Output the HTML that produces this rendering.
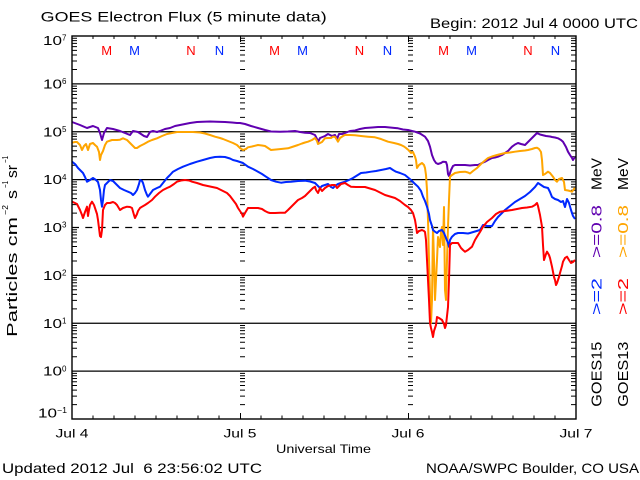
<!DOCTYPE html>
<html><head><meta charset="utf-8"><style>
html,body{margin:0;padding:0;background:#fff;}
svg{display:block;}
text{font-family:"Liberation Sans",sans-serif;}
</style></head><body>
<svg width="640" height="480" viewBox="0 0 640 480" xmlns="http://www.w3.org/2000/svg">
<defs>
<path id="dec" d="M0,-14.41h5M0,-22.84h5M0,-28.82h5M0,-33.46h5M0,-37.25h5M0,-40.46h5M0,-43.24h5M0,-45.68h5" stroke="#000" stroke-width="1" fill="none"/>
<g id="col">
<use href="#dec" y="83.875"/><use href="#dec" y="131.75"/><use href="#dec" y="179.625"/><use href="#dec" y="227.5"/>
<use href="#dec" y="275.375"/><use href="#dec" y="323.25"/><use href="#dec" y="371.125"/><use href="#dec" y="419"/>
</g>
</defs>
<rect width="640" height="480" fill="#fff"/>

<!-- titles -->
<text x="40.7" y="21.7" font-size="14" textLength="286" lengthAdjust="spacingAndGlyphs">GOES Electron Flux (5 minute data)</text>
<text x="430" y="28" font-size="14" textLength="208" lengthAdjust="spacingAndGlyphs">Begin: 2012 Jul 4 0000 UTC</text>
<text x="2" y="473" font-size="14" textLength="260" lengthAdjust="spacingAndGlyphs" xml:space="preserve">Updated 2012 Jul  6 23:56:02 UTC</text>
<text x="426" y="473" font-size="14" textLength="213" lengthAdjust="spacingAndGlyphs">NOAA/SWPC Boulder, CO USA</text>

<!-- gridlines -->
<g stroke="#000" stroke-width="1.3" fill="none">
<line x1="72" y1="83.875" x2="576" y2="83.875"/>
<line x1="72" y1="131.75" x2="576" y2="131.75"/>
<line x1="72" y1="179.625" x2="576" y2="179.625"/>
<line x1="72" y1="227.5" x2="576" y2="227.5" stroke-dasharray="7,6.3"/>
<line x1="72" y1="275.375" x2="576" y2="275.375"/>
<line x1="72" y1="323.25" x2="576" y2="323.25"/>
<line x1="72" y1="371.125" x2="576" y2="371.125"/>
</g>

<!-- minor log ticks -->
<use href="#col" x="72"/>
<use href="#col" x="240"/>
<use href="#col" x="408"/>
<use href="#col" x="571"/>

<!-- x ticks -->
<path stroke="#000" stroke-width="1" fill="none" d="M93,419v-3.5M114,419v-3.5M135,419v-3.5M156,419v-3.5M177,419v-3.5M198,419v-3.5M219,419v-3.5M261,419v-3.5M282,419v-3.5M303,419v-3.5M324,419v-3.5M345,419v-3.5M366,419v-3.5M387,419v-3.5M429,419v-3.5M450,419v-3.5M471,419v-3.5M492,419v-3.5M513,419v-3.5M534,419v-3.5M555,419v-3.5
M93,36v3M114,36v3M135,36v3M156,36v3M177,36v3M198,36v3M219,36v3M261,36v3M282,36v3M303,36v3M324,36v3M345,36v3M366,36v3M387,36v3M429,36v3M450,36v3M471,36v3M492,36v3M513,36v3M534,36v3M555,36v3
M240.5,419v-6M408.5,419v-6M240.5,36v6M408.5,36v6"/>

<!-- data series -->
<g fill="none" stroke-width="2" stroke-linejoin="round">
<polyline stroke="#6000b0" points="72,122 80,125 87,128 93,126 98,128 100,133 102,140 104,133 107,128 113,129 120,131 125,133 130,135 133,131 138,132 141,134 144,136 147,137 150,132 153,131 157,132 160,131 165,129 170,128 175,126 180,125 185,124 190,123 197,122 203,121.7 210,121.5 217,121.7 225,122 232,122.5 237,123 240,123 245,124 251,126 258,128 265,130 271,131.5 280,131.7 288,131.5 295,131 300,132 305,132.7 310,133 315,135 317,139 318,142 320,138 325,136 328,134 332,136 335,135 337,139 339,134 342,134 345,133 350,131 355,130.5 360,129 365,128 372,127.5 378,127 385,127 390,127.5 395,128 398,128.3 403,129.5 408,130 411,130.7 415,131.7 420,133.5 425,136.7 428,141 430,146.7 432,155 434,160 436,163 438,164 441,163 443,161.7 446,162 447,165 448,174 449,176 451,170 453,166 455,165 460,165 465,165 470,165.5 475,165 478,165 482,163 485,161.7 488,160 492,158 495,157.5 498,156.7 502,155 505,153 508,151 512,146.7 515,144.5 518,143 521,144 525,145 528,142 530,140 533,137 537,133 540,134.5 542,135 546,136 550,136.5 552,137 555,137.5 558,138.3 561,140 563,141.7 566,147 568,151.7 570,155 572,158 573,160 575,157"/>
<polyline stroke="#ffa500" points="72,142.7 75,142 77,142 80,145 82,150 84,146 86,144 88,150 89,147 90,144 93,143 95,145 97,146.7 99,152 100,160 101,155 103,151 105,145 107,141.7 112,140 117,140 120,139.7 123,138.3 127,140 130,143 133,146 135,148 137,148 140,146 144,144 148,141.7 152,140 157,138.3 162,136 167,134 172,133 177,132 185,132 193,132 200,132.5 205,133.5 210,135 215,136.7 220,138 223,139 228,141 233,143 237,145 240,148 243,150 246,149 248,147.3 252,146.5 258,145 262,145.5 265,146 268,148 271,150 276,149.5 281,149 288,148.3 292,147 295,146 298,145 302,143.5 305,142.5 308,141.7 312,140 315,138 317,141 318,144 320,143 322,142 325,138.3 328,138 331,138 333,136.7 335,136.7 337,140 338,141.7 340,138 343,136 345,135 350,135 355,135.3 361,136 368,136.7 375,137.3 381,139 388,141.7 394,143 398,144 401,145 404,146.5 406,148 409,150.5 411,153 413,152 415,156.7 416,160 417,168 419,165 422,163 424,165 425,168 426,175 427,190 428,220 429,260 430,295 431,323 432,300 433,227 434,260 435,300 436,280 437,260 438,237 440,247 441,232 442,227 443,245 444,207 445,290 446,300 447,260 448,227 449,200 450,176.7 452,175 455,173 460,172 465,171.7 468,172.5 470,173.5 473,171 477,168 480,165 482,163 485,160.5 488,158 492,156.5 497,155 501,154 505,153 510,152.5 515,151.7 520,151 525,150.5 528,150 532,149 535,148 537,147.7 539,149 541,152 542,160 543,175 545,174 548,171.7 550,173 553,176.7 555,180 557,181.7 559,179 562,178 564,182 565,190 568,190.5 570,191 572,191.7 574,189 575,188"/>
<polyline stroke="#0028ff" points="72,161.7 75,164 78,168 80,170 83,173 85,177 87,181.7 90,180 93,178 96,180 98,182 100,190 101,200 102,206.7 103,200 104,190 105,185 107,183 110,180 113,181 115,183 118,186 120,188 124,190 128,191.7 131,193 133,195 135,193 137,190 139,184 140,180 142,181 143,183 145,190 147,195 148,196.7 150,194 153,190 157,188 160,186.7 163,183 167,178 170,175 173,171.7 178,169 183,166.7 190,164 197,161.7 203,160 210,158 215,157 220,156.7 225,157 230,158.5 233,160 237,161 240,162 243,163 248,166.7 253,169 258,171.7 262,174 266,176.7 268,178 271,180 276,181.7 281,182.7 286,182 291,181.7 298,181 305,180.7 310,181.5 315,183 318,186 320,188 322,186 325,185 328,184 331,187 333,188 335,186 338,184 341,183 345,181.7 349,180 353,178 357,175.5 361,173 366,172.5 371,171.7 376,171 381,170 386,169 390,168 393,170 396,171.7 400,173 405,175 408,177.5 411,180 414,183 418,186.7 421,191 423,196.7 425,201 427,206.7 429,214 430,220 432,226 433,230 435,231.7 437,233 439,231 442,230 444,233 446,238 448,243 449,246.7 450,240 452,236.7 455,234 458,233 463,233 468,233.5 470,233 475,231.5 480,230 483,225 487,226 492,226 495,221 498,217 502,213 505,210 510,206 515,202 520,199 525,196 530,192 535,187 538,183 541,185 544,187 548,188 550,192 552,197 555,199 558,200 561,202 563,201 565,207 567,199 569,203 571,210 573,216 575,219"/>
<polyline stroke="#ff0000" points="72,201.7 75,203 77,204 79,208 80,210 82,215 83,218 85,212 87,206.7 88,216 89,210 90,205 92,201.7 94,205 95,208 97,214 98,220 99,228 100,236 101,237 102,230 103,210 105,205 107,203 110,203 113,202 115,203 117,205 120,210 123,208 127,206.7 130,207 132,208 134,215 135,218 137,214 138,211 140,208 142,206.7 145,205 148,203 152,200 155,196.7 159,193 163,190 167,188 170,186.7 174,184 177,181.7 181,180.5 185,180 189,180.5 192,181.7 197,183 203,185 210,186.5 217,188 222,190.5 227,193 230,196 233,200 236,204 238,208 240,211 242,214 243,216.7 245,213 248,208 252,208 256,208 258,208 262,209 265,211 268,212.5 270,213 275,213 280,212.7 285,212.7 288,210 290,208 293,205 296,202 298,200 302,198 305,196 308,193 311,190 313,188 315,186.7 316,190 318,193 320,188 322,191 325,188 328,186 332,185 335,185 337,188 338,187 341,184 345,183 348,185 351,186.7 356,187 361,187 365,187 370,188.5 375,190 380,192.5 385,195 390,196.5 395,198 400,201 405,205 408,207 411,210 413,213 415,220 416,226 417,233 419,231 422,230 424,231 425,232 426,240 427,260 428,280 429,300 430,323 431,328 432,332 433,337 434,331 436,325 437,317 439,318 442,320 444,324 445,328 446,325 448,307 449,280 450,245 452,243 455,243 458,243 461,248 463,250 465,251.7 468,250 472,246.7 475,240 477,236.7 480,232 483,226.7 487,222 492,218 496,214 500,211.7 505,211 512,210 517,209 522,208 527,207.5 532,206.7 535,205 537,203 538,206 540,215 542,226.7 543,245 544,260 546,254 547,251.7 549,255 550,258 552,266.7 554,277 555,280 556,285 557,283 559,277 560,273 562,266 563,261.7 565,258 567,256.7 569,260 571,263 573,262 575,260"/>
</g>

<!-- axis box -->
<rect x="72" y="36" width="504" height="383" fill="none" stroke="#000" stroke-width="1.4"/>

<!-- M/N markers -->
<g font-size="13" text-anchor="middle">
<text x="106.7" y="55" fill="#ff0000">M</text>
<text x="134.5" y="55" fill="#0028ff">M</text>
<text x="191" y="55" fill="#ff0000">N</text>
<text x="219.5" y="55" fill="#0028ff">N</text>
<text x="274.5" y="55" fill="#ff0000">M</text>
<text x="302.5" y="55" fill="#0028ff">M</text>
<text x="359.5" y="55" fill="#ff0000">N</text>
<text x="387.5" y="55" fill="#0028ff">N</text>
<text x="443.5" y="55" fill="#ff0000">M</text>
<text x="471.5" y="55" fill="#0028ff">M</text>
<text x="528" y="55" fill="#ff0000">N</text>
<text x="555.5" y="55" fill="#0028ff">N</text>
</g>

<!-- y tick labels -->
<g font-size="13">
<text x="43" y="45" textLength="19" lengthAdjust="spacingAndGlyphs">10</text><text x="62" y="40.5" font-size="8">7</text>
<text x="43" y="88.5" textLength="19" lengthAdjust="spacingAndGlyphs">10</text><text x="62" y="84" font-size="8">6</text>
<text x="43" y="136.4" textLength="19" lengthAdjust="spacingAndGlyphs">10</text><text x="62" y="132" font-size="8">5</text>
<text x="43" y="184.2" textLength="19" lengthAdjust="spacingAndGlyphs">10</text><text x="62" y="179.8" font-size="8">4</text>
<text x="43" y="232.1" textLength="19" lengthAdjust="spacingAndGlyphs">10</text><text x="62" y="227.7" font-size="8">3</text>
<text x="43" y="280" textLength="19" lengthAdjust="spacingAndGlyphs">10</text><text x="62" y="275.6" font-size="8">2</text>
<text x="43" y="327.9" textLength="19" lengthAdjust="spacingAndGlyphs">10</text><text x="62" y="323.5" font-size="8">1</text>
<text x="43" y="375.7" textLength="19" lengthAdjust="spacingAndGlyphs">10</text><text x="62" y="371.3" font-size="8">0</text>
<text x="38" y="417.3" textLength="19" lengthAdjust="spacingAndGlyphs">10</text><text x="57" y="413" font-size="8" textLength="10" lengthAdjust="spacingAndGlyphs">−1</text>
</g>

<!-- x labels -->
<g font-size="12" text-anchor="middle">
<text x="72" y="437.3" textLength="33" lengthAdjust="spacingAndGlyphs">Jul 4</text>
<text x="240" y="437.3" textLength="33" lengthAdjust="spacingAndGlyphs">Jul 5</text>
<text x="408" y="437.3" textLength="33" lengthAdjust="spacingAndGlyphs">Jul 6</text>
<text x="576" y="437.3" textLength="33" lengthAdjust="spacingAndGlyphs">Jul 7</text>
<text x="323.5" y="453" textLength="95" lengthAdjust="spacingAndGlyphs">Universal Time</text>
</g>

<!-- y axis title -->
<g transform="translate(17,337) rotate(-90)">
<text x="0" y="0" font-size="15" textLength="120" lengthAdjust="spacingAndGlyphs">Particles cm</text>
<text x="122" y="-9" font-size="8" textLength="10" lengthAdjust="spacingAndGlyphs">−2</text>
<text x="138" y="0" font-size="15" textLength="9" lengthAdjust="spacingAndGlyphs">s</text>
<text x="149" y="-9" font-size="8" textLength="7" lengthAdjust="spacingAndGlyphs">−1</text>
<text x="159" y="0" font-size="15" textLength="13" lengthAdjust="spacingAndGlyphs">sr</text>
<text x="174" y="-9" font-size="8" textLength="7" lengthAdjust="spacingAndGlyphs">−1</text>
</g>

<!-- right legend column 1 -->
<g font-size="15">
<text transform="translate(601.7,406.7) rotate(-90)" textLength="65" lengthAdjust="spacingAndGlyphs">GOES15</text>
<text transform="translate(601.7,315) rotate(-90)" textLength="37" lengthAdjust="spacingAndGlyphs" fill="#0028ff">&gt;=2</text>
<text transform="translate(601.7,258) rotate(-90)" textLength="53" lengthAdjust="spacingAndGlyphs" fill="#6000b0">&gt;=0.8</text>
<text transform="translate(601.7,190) rotate(-90)" textLength="32" lengthAdjust="spacingAndGlyphs">MeV</text>
</g>
<!-- right legend column 2 -->
<g font-size="15">
<text transform="translate(628,406.7) rotate(-90)" textLength="65" lengthAdjust="spacingAndGlyphs">GOES13</text>
<text transform="translate(628,315) rotate(-90)" textLength="37" lengthAdjust="spacingAndGlyphs" fill="#ff0000">&gt;=2</text>
<text transform="translate(628,258) rotate(-90)" textLength="53" lengthAdjust="spacingAndGlyphs" fill="#ffa500">&gt;=0.8</text>
<text transform="translate(628,190) rotate(-90)" textLength="32" lengthAdjust="spacingAndGlyphs">MeV</text>
</g>
</svg>
</body></html>
